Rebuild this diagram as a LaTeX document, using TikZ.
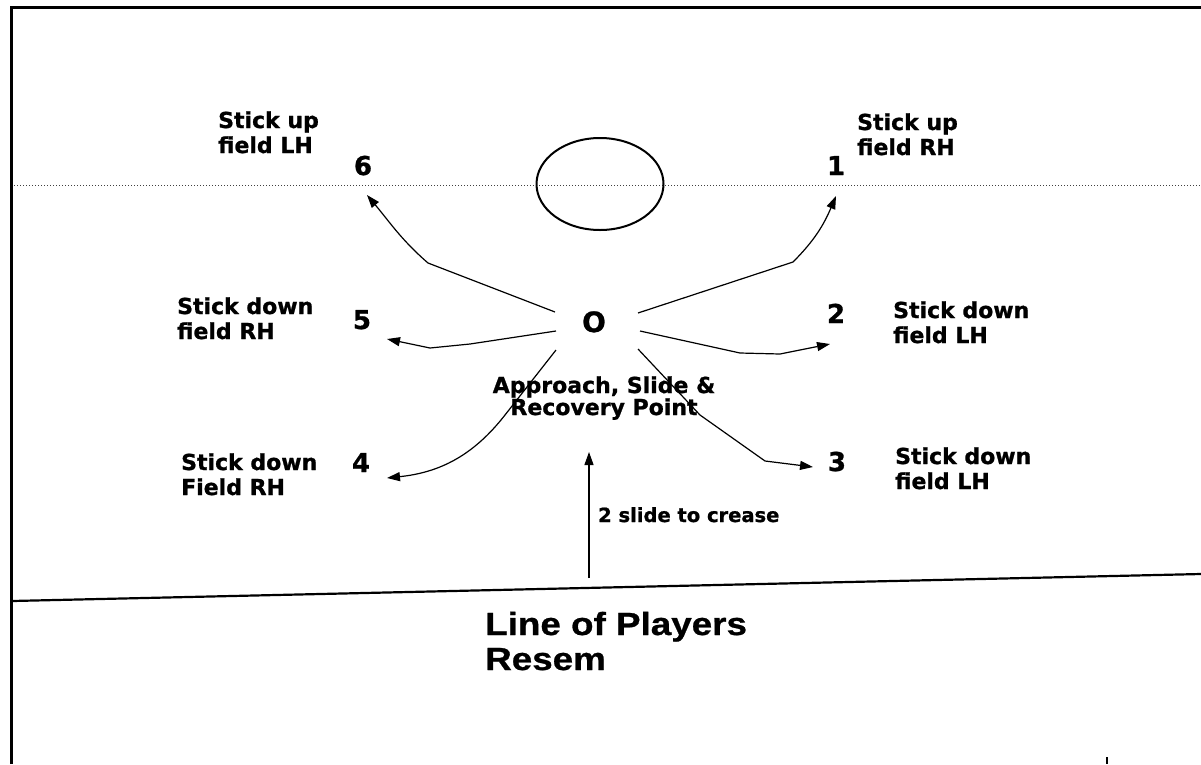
\documentclass[tikz,border=0pt]{standalone}
\usepackage{fontspec}
\setmainfont{DejaVu Sans}[BoldFeatures={FakeBold=1}]
\newfontfamily\lpfont{Liberation Sans}[FakeStretch=1.15, BoldFont={Liberation Sans Bold}, BoldFeatures={FakeStretch=1.15, FakeBold=0.8}]
\usetikzlibrary{arrows.meta,shapes.geometric}
\begin{document}
\begin{tikzpicture}[x=1pt,y=-1pt,
  lbl/.style={font=\fontsize{22}{25}\selectfont\bfseries, align=left, inner sep=0pt, anchor=base west},
  num/.style={font=\fontsize{26}{28}\selectfont\bfseries, inner sep=0pt, anchor=base},
  arr/.style={line width=1.2pt, -{Triangle[length=13pt,width=9pt]}},
  dotline/.style={line width=1pt, black!75, dash pattern=on 1pt off 2pt},
  thickline/.style={line width=2.2pt}]
\useasboundingbox (0,0) rectangle (1201,764);
% frame
\draw[line width=3pt, line join=miter] (11.5,764) -- (11.5,7) -- (1201,7);
% crease line and crease
\draw[dotline] (14,185) -- (1201,185);
\node[ellipse, draw, line width=2pt, minimum width=127pt, minimum height=92pt, inner sep=0pt] (crease) at (600,184) {};
% line of players
\coordinate (lineL) at (12,601);
\coordinate (lineR) at (1201,574);
\draw[thickline] (lineL) -- (lineR);
\draw[line width=2.5pt] (1107,757) -- (1107,764);
% numbers
\node[num] (n6) at (363,175) {6};
\node[num] (n1) at (836,175) {1};
\node[num] (n5) at (362,329) {5};
\node[num] (n2) at (836,323) {2};
\node[num] (n4) at (361,472) {4};
\node[num] (n3) at (837,471) {3};
\node[num, font=\fontsize{28}{30}\selectfont\bfseries] (O) at (594,332) {O};
% labels (anchored at the baseline of the last line)
\node[lbl] (l6) at (218,153) {Stick up\\field LH};
\node[lbl] (l1) at (857,155) {Stick up\\field RH};
\node[lbl] (l5) at (177,339) {Stick down\\field RH};
\node[lbl] (l2) at (893,343) {Stick down\\field LH};
\node[lbl] (l4) at (181,495) {Stick down\\Field RH};
\node[lbl] (l3) at (895,489) {Stick down\\field LH};
\node[lbl, font=\fontsize{22}{22}\selectfont\bfseries, align=center, anchor=base] (asr) at (604,415) {Approach, Slide \&\\Recovery Point};
\node[lbl, font=\fontsize{19.5}{22}\selectfont\bfseries] (slide) at (598,522) {2 slide to crease};
\node[anchor=base west, inner sep=0pt, align=left, font=\lpfont\bfseries\fontsize{32}{35}\selectfont] (lop) at (485,670) {Line of Players\\Resem};
% arrow ends
\coordinate (s6) at (555,312); \coordinate (t6) at (367,195);
\coordinate (s1) at (638,313); \coordinate (t1) at (836,196);
\coordinate (s5) at (556,331); \coordinate (t5) at (387,339);
\coordinate (s2) at (640,331); \coordinate (t2) at (830,344);
\coordinate (s4) at (556,350); \coordinate (t4) at (387,478);
\coordinate (s3) at (638,349); \coordinate (t3) at (813,467);
\coordinate (s0) at (589,578); \coordinate (t0) at (589,452);
% arrows
\draw[arr] (s6) -- (428,263) to[out=139,in=-50] (t6);
\draw[arr] (s1) -- (793,262) to[out=45,in=-113] (t1);
\draw[arr] (s5) -- (470,344) -- (430,348) -- (t5);
\draw[arr] (s2) -- (740,353) -- (780,354) -- (t2);
\draw[arr] (s4) -- (505,415) to[out=-128,in=6] (t4);
\draw[arr] (s3) -- (700,415) -- (765,461) -- (t3);
\draw[arr] (s0) -- (t0);
\end{tikzpicture}
\end{document}
